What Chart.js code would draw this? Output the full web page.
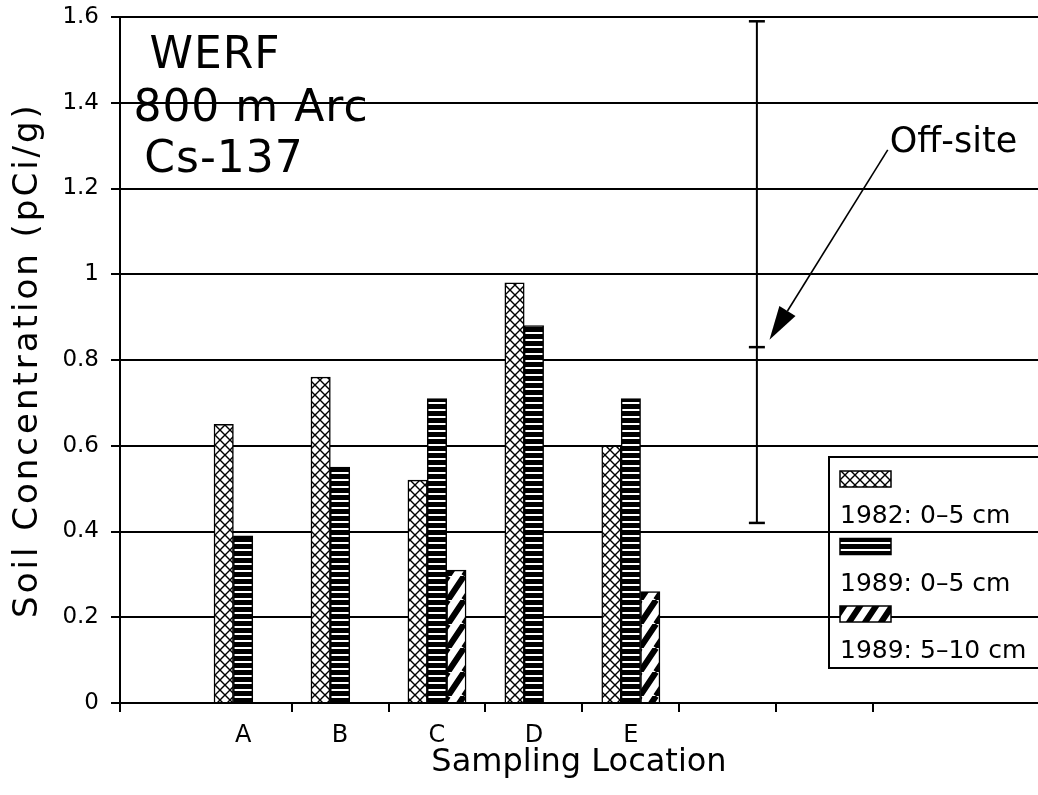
<!DOCTYPE html>
<html>
<head>
<meta charset="utf-8">
<title>WERF 800 m Arc Cs-137</title>
<script src="https://cdn.jsdelivr.net/npm/chart.js@4.4.1/dist/chart.umd.min.js"></script>
<style>
  html, body { margin: 0; padding: 0; background: #fff; }
  #wrap { width: 1038px; height: 795px; }
</style>
</head>
<body>
<div id="wrap"><canvas id="soilChart"></canvas></div>
<script>
// Cs-137 soil concentration (pCi/g) by sampling location on the 800 m arc
const locations = ['A', 'B', 'C', 'D', 'E'];
const surface1982 = [0.65, 0.76, 0.52, 0.98, 0.60];  // 1982, 0-5 cm
const surface1989 = [0.39, 0.55, 0.71, 0.88, 0.71];  // 1989, 0-5 cm
const deep1989 = [null, null, 0.31, null, 0.26];     // 1989, 5-10 cm
const seriesLabels = ['1982: 0–5 cm', '1989: 0–5 cm', '1989: 5–10 cm'];

// off-site range: min, mean, max
const offsite = [0.42, 0.83, 1.59];

const titleLines = ['WERF', '800 m Arc', 'Cs-137'];
const xTickValues = [-0.27, 1, 1.5, 2, 2.5, 3, 3.5, 4, 4.5, 5, 5.5, 6.5, 7.5];

const FONT = "'DejaVu Sans', sans-serif";
Chart.defaults.font.family = FONT;
Chart.defaults.color = '#000';

// fill patterns for the bars
function makePattern(w, h, paint) {
    const c = document.createElement('canvas');
    c.width = w;
    c.height = h;
    const g = c.getContext('2d');
    paint(g, w, h);
    return g.createPattern(c, 'repeat');
}

const crossHatch = makePattern(10, 10, (g, w, h) => {
    g.fillStyle = '#fff';
    g.fillRect(0, 0, w, h);
    g.strokeStyle = '#000';
    g.lineWidth = 1.4;
    g.beginPath();
    g.moveTo(0, 0); g.lineTo(w, h);
    g.moveTo(w, 0); g.lineTo(0, h);
    g.stroke();
});

const hStripes = makePattern(4, 7, (g, w, h) => {
    g.fillStyle = '#000';
    g.fillRect(0, 0, w, h);
    g.fillStyle = '#fff';
    g.fillRect(0, 3, w, 2);
});

const diagStripes = makePattern(16, 24, (g, w, h) => {
    g.fillStyle = '#fff';
    g.fillRect(0, 0, w, h);
    g.strokeStyle = '#000';
    g.lineWidth = 6;
    g.beginPath();
    for (const dx of [-w, 0, w]) {
        g.moveTo(dx, h);
        g.lineTo(dx + w, 0);
    }
    g.stroke();
});

const points = values => values.map((v, i) => ({ x: i + 1, y: v }));

function barSet(label, values, fill) {
    return {
        type: 'bar',
        label: label,
        data: points(values),
        backgroundColor: fill,
        borderColor: '#000',
        borderWidth: 1.5,
        barThickness: 19.4
    };
}

// letter-spaced y axis title
const spacedTitle = {
    id: 'spacedTitle',
    beforeDraw(chart) {
        const ys = chart.scales.y;
        if (ys._spaced) return;
        const draw = ys.drawTitle.bind(ys);
        ys.drawTitle = () => {
            ys.ctx.save();
            ys.ctx.letterSpacing = '3px';
            draw();
            ys.ctx.restore();
        };
        ys._spaced = true;
    }
};

// title block, off-site arrow and the legend box
const notes = {
    id: 'notes',
    afterDatasetsDraw(chart) {
        const { ctx, chartArea, scales: { x, y } } = chart;
        ctx.save();
        ctx.fillStyle = '#000';
        ctx.strokeStyle = '#000';

        ctx.font = '44px ' + FONT;
        ctx.letterSpacing = '1px';
        ctx.textAlign = 'center';
        ctx.textBaseline = 'alphabetic';
        const centers = [95, 131, 104];
        const baselines = [51, 104, 155];
        titleLines.forEach((t, i) => {
            ctx.fillText(t, chartArea.left + centers[i], chartArea.top + baselines[i]);
        });
        ctx.letterSpacing = '0px';

        // arrow pointing at the off-site range
        const tx = x.getPixelForValue(7.65), ty = y.getPixelForValue(1.29);
        const px = x.getPixelForValue(6.43), py = y.getPixelForValue(0.847);
        const len = Math.hypot(px - tx, py - ty);
        const ux = (px - tx) / len, uy = (py - ty) / len;
        const head = 34, half = 9.5;
        const bx = px - ux * head, by = py - uy * head;
        ctx.lineWidth = 1.6;
        ctx.beginPath();
        ctx.moveTo(tx, ty);
        ctx.lineTo(bx, by);
        ctx.stroke();
        ctx.beginPath();
        ctx.moveTo(px, py);
        ctx.lineTo(bx - uy * half, by + ux * half);
        ctx.lineTo(bx + uy * half, by - ux * half);
        ctx.closePath();
        ctx.fill();

        ctx.font = '35px ' + FONT;
        ctx.textAlign = 'left';
        ctx.fillText('Off-site', x.getPixelForValue(7.67), y.getPixelForValue(1.285));

        // legend: swatch above each label
        const left = chartArea.right - 209, top = 457;
        ctx.lineWidth = 2;
        ctx.strokeRect(left, top, 230, 211);
        ctx.font = '25px ' + FONT;
        chart.data.datasets.filter(d => d.type === 'bar').forEach((d, i) => {
            const base = 523 + i * 67.5;
            ctx.fillStyle = d.backgroundColor;
            ctx.fillRect(left + 11, base - 52, 51, 16);
            ctx.lineWidth = 1.5;
            ctx.strokeRect(left + 11, base - 52, 51, 16);
            ctx.fillStyle = '#000';
            ctx.fillText(d.label, left + 11, base);
        });
        ctx.restore();
    }
};

new Chart(document.getElementById('soilChart'), {
    type: 'bar',
    data: {
        datasets: [
            barSet(seriesLabels[0], surface1982, crossHatch),
            barSet(seriesLabels[1], surface1989, hStripes),
            barSet(seriesLabels[2], deep1989, diagStripes),
            {
                type: 'line',
                label: 'Off-site',
                data: offsite.map(v => ({ x: 6.3, y: v })),
                borderColor: '#000',
                borderWidth: 2,
                pointStyle: 'line',
                pointRadius: 8,
                pointBorderWidth: 2.5,
                pointBorderColor: '#000',
                fill: false
            }
        ]
    },
    options: {
        responsive: true,
        maintainAspectRatio: false,
        devicePixelRatio: 1,
        animation: false,
        layout: { autoPadding: false, padding: { top: 17, left: 0, right: 0, bottom: 0 } },
        plugins: {
            legend: { display: false },
            tooltip: { enabled: false }
        },
        scales: {
            x: {
                type: 'linear',
                min: -0.27,
                max: 9.2,
                offset: false,
                afterBuildTicks(scale) {
                    scale.ticks = xTickValues.map(v => ({ value: v }));
                },
                afterFit(scale) {
                    scale.height = 92;
                    scale.paddingLeft = 0;
                    scale.paddingRight = 0;
                },
                ticks: {
                    autoSkip: false,
                    maxRotation: 0,
                    padding: 9,
                    font: { size: 24 },
                    callback: v => Number.isInteger(v) ? (locations[v - 1] || '') : ''
                },
                grid: {
                    drawOnChartArea: false,
                    offset: false,
                    tickLength: 9,
                    lineWidth: 2,
                    color: '#000',
                    tickColor: c => (c.tick && Number.isInteger(c.tick.value)) ? 'rgba(0,0,0,0)' : '#000'
                },
                border: { color: '#000', width: 2 },
                title: {
                    display: true,
                    text: 'Sampling Location',
                    font: { size: 32 },
                    padding: { top: 0, bottom: 13 }
                }
            },
            y: {
                min: 0,
                max: 1.6,
                afterFit(scale) {
                    scale.width = 120;
                    scale.paddingTop = 0;
                    scale.paddingBottom = 0;
                },
                ticks: {
                    stepSize: 0.2,
                    padding: 12,
                    font: { size: 23 },
                    callback: v => String(+v.toFixed(1))
                },
                grid: { color: '#000', lineWidth: 2, tickLength: 9 },
                border: { color: '#000', width: 2 },
                title: {
                    display: true,
                    text: 'Soil Concentration (pCi/g)',
                    font: { size: 34 },
                    padding: { top: 8, bottom: 0 }
                }
            }
        }
    },
    plugins: [spacedTitle, notes]
});
</script>
</body>
</html>
